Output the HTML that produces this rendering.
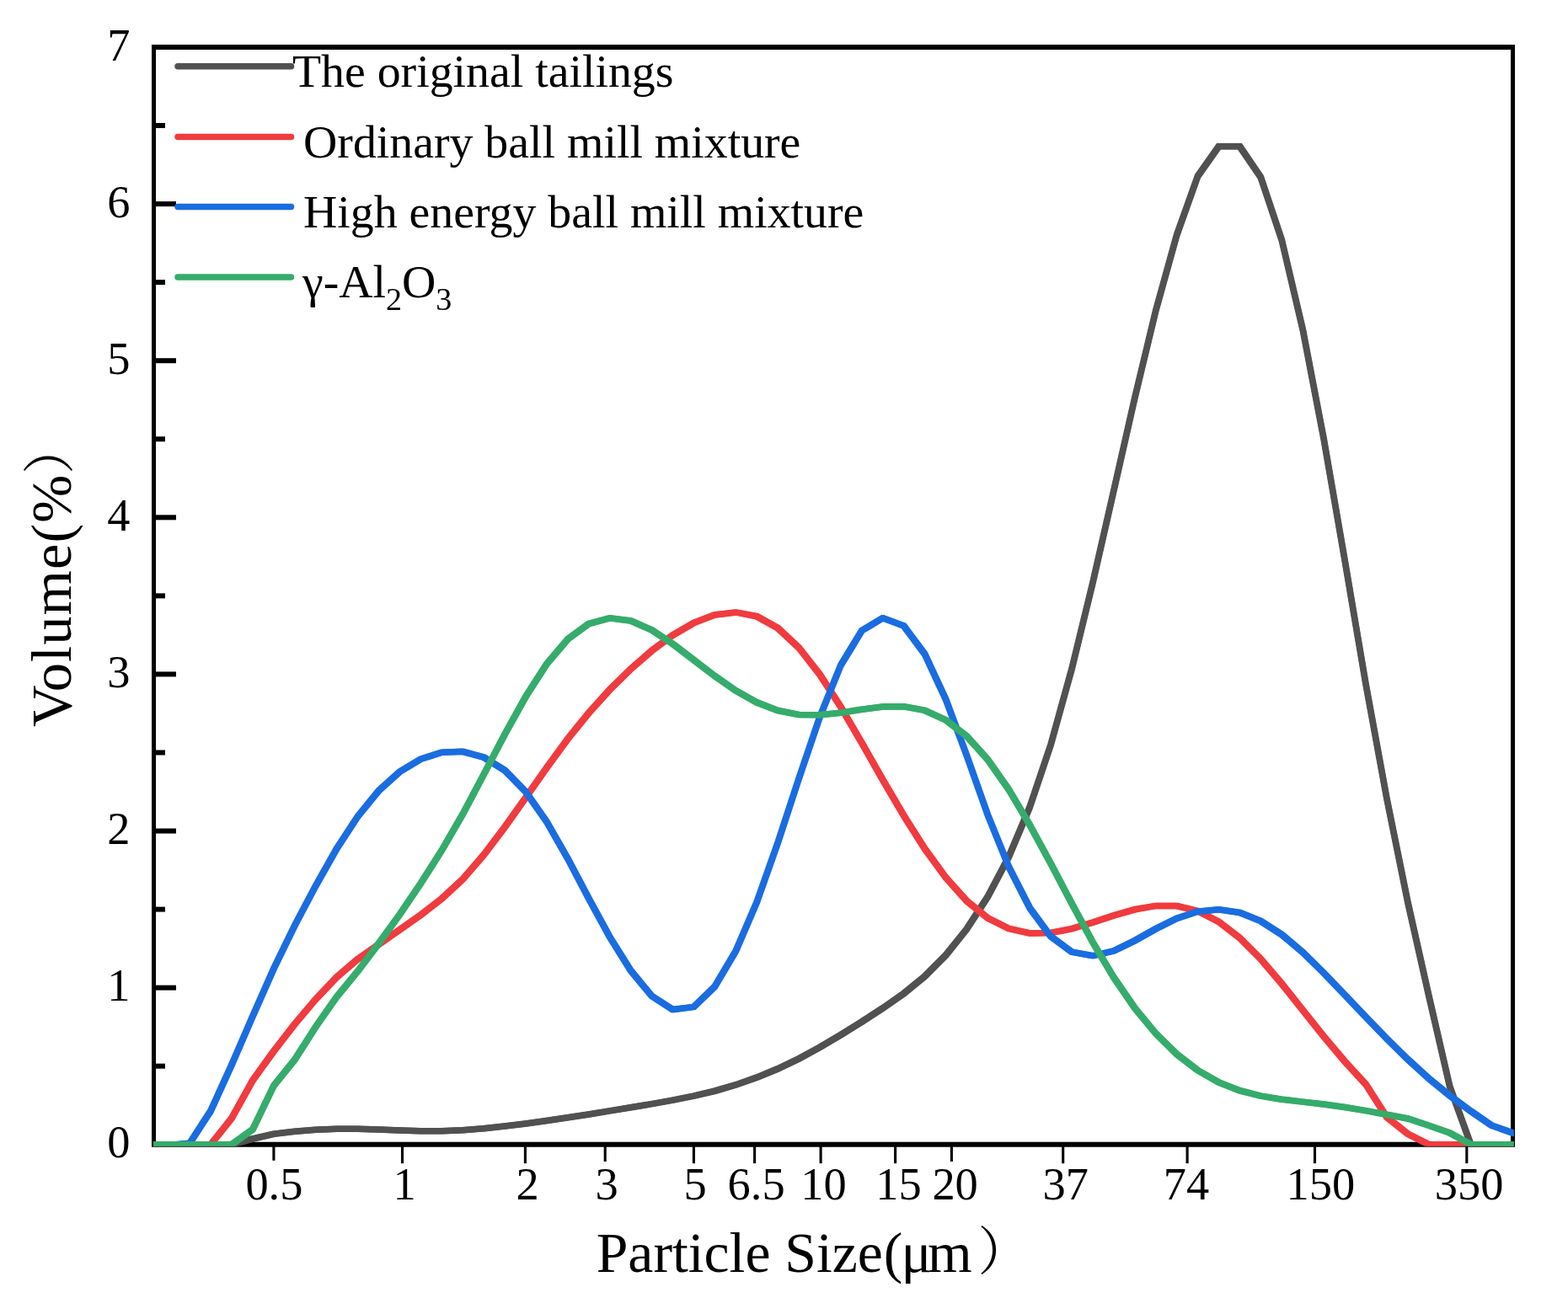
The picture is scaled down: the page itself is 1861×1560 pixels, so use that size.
<!DOCTYPE html>
<html lang="en"><head><meta charset="utf-8"><title>Particle size distribution</title>
<style>html,body{margin:0;padding:0;background:#fff}body{width:1861px;height:1560px;overflow:hidden}svg{display:block}text{font-family:"Liberation Serif",serif;fill:#000}</style></head><body>
<svg width="1861" height="1560" viewBox="0 0 1861 1560">
<rect width="1861" height="1560" fill="#fff"/>
<defs><clipPath id="c"><rect x="182" y="53.0" width="1614.8" height="1307.8"/></clipPath></defs>
<g stroke="#000" fill="none">
<line x1="180.0" y1="56" x2="1798.0" y2="56" stroke-width="6"/>
<line x1="180.0" y1="1358.75" x2="1798.0" y2="1358.75" stroke-width="6"/>
<line x1="182.5" y1="56" x2="182.5" y2="1358.75" stroke-width="5"/>
<line x1="1795.5" y1="56" x2="1795.5" y2="1358.75" stroke-width="5"/>
<line x1="182.5" y1="1265.70" x2="196" y2="1265.70" stroke-width="6"/>
<line x1="182.5" y1="1172.64" x2="209" y2="1172.64" stroke-width="6"/>
<line x1="182.5" y1="1079.59" x2="196" y2="1079.59" stroke-width="6"/>
<line x1="182.5" y1="986.54" x2="209" y2="986.54" stroke-width="6"/>
<line x1="182.5" y1="893.48" x2="196" y2="893.48" stroke-width="6"/>
<line x1="182.5" y1="800.43" x2="209" y2="800.43" stroke-width="6"/>
<line x1="182.5" y1="707.38" x2="196" y2="707.38" stroke-width="6"/>
<line x1="182.5" y1="614.32" x2="209" y2="614.32" stroke-width="6"/>
<line x1="182.5" y1="521.27" x2="196" y2="521.27" stroke-width="6"/>
<line x1="182.5" y1="428.21" x2="209" y2="428.21" stroke-width="6"/>
<line x1="182.5" y1="335.16" x2="196" y2="335.16" stroke-width="6"/>
<line x1="182.5" y1="242.11" x2="209" y2="242.11" stroke-width="6"/>
<line x1="182.5" y1="149.05" x2="196" y2="149.05" stroke-width="6"/>
<line x1="324.9" y1="1358.75" x2="324.9" y2="1377.8" stroke-width="3.1"/>
<line x1="477.5" y1="1358.75" x2="477.5" y2="1381.2" stroke-width="3.1"/>
<line x1="623.4" y1="1358.75" x2="623.4" y2="1381.2" stroke-width="3.1"/>
<line x1="718.2" y1="1358.75" x2="718.2" y2="1379" stroke-width="3.1"/>
<line x1="823.4" y1="1358.75" x2="823.4" y2="1381.2" stroke-width="3.1"/>
<line x1="895.6" y1="1358.75" x2="895.6" y2="1381.2" stroke-width="3.1"/>
<line x1="974.1" y1="1358.75" x2="974.1" y2="1381.2" stroke-width="3.1"/>
<line x1="1062.6" y1="1358.75" x2="1062.6" y2="1381.2" stroke-width="3.1"/>
<line x1="1129.4" y1="1358.75" x2="1129.4" y2="1379" stroke-width="3.1"/>
<line x1="1261.7" y1="1358.75" x2="1261.7" y2="1381.2" stroke-width="3.1"/>
<line x1="1409.1" y1="1358.75" x2="1409.1" y2="1381.2" stroke-width="3.1"/>
<line x1="1560.5" y1="1358.75" x2="1560.5" y2="1381.2" stroke-width="3.1"/>
<line x1="1740.8" y1="1358.75" x2="1740.8" y2="1381.2" stroke-width="3.1"/>
</g>
<g clip-path="url(#c)" fill="none" stroke-linejoin="miter" stroke-miterlimit="4" stroke-linecap="butt">
<g stroke="#515151" stroke-width="5.3">
<polyline points="176.45,1359.85 201.37,1359.85 226.30,1359.85 251.22,1359.85 276.15,1359.85 301.07,1353.10 326.00,1347.35 350.93,1344.37 375.85,1342.32 400.77,1341.28 425.70,1341.28 450.62,1342.07 475.55,1343.16 500.48,1343.96 525.40,1343.95 550.33,1342.89 575.25,1340.85 600.18,1338.15 625.10,1335.03 650.02,1331.61 674.95,1327.92 699.88,1324.02 724.80,1320.00 749.73,1315.90 774.65,1311.70 799.57,1307.25 824.50,1302.26 849.43,1296.34 874.35,1289.10 899.27,1280.32 924.20,1270.01 949.12,1258.10 974.05,1244.57 998.98,1229.78 1023.90,1214.21 1048.82,1198.02 1073.75,1180.52 1098.67,1160.17 1123.60,1135.11 1148.52,1104.01 1173.45,1065.61 1198.38,1018.35 1223.30,959.33 1248.22,885.20 1273.15,795.25 1298.07,692.86 1323.00,583.42 1347.92,473.48 1372.85,369.88 1397.78,280.10 1422.70,210.10 1447.62,174.90 1472.55,174.90 1497.47,211.60 1522.40,286.10 1547.32,392.27 1572.25,522.29 1597.17,666.10 1622.10,813.10 1647.03,949.10 1671.95,1072.10 1696.88,1183.10 1721.80,1291.10 1746.72,1359.85 1771.65,1359.85 1796.57,1359.85 1821.50,1359.85"/>
<polyline points="174.25,1359.85 199.17,1359.85 224.10,1359.85 249.02,1359.85 273.95,1359.85 298.87,1353.10 323.80,1347.35 348.72,1344.37 373.65,1342.32 398.57,1341.28 423.50,1341.28 448.42,1342.07 473.35,1343.16 498.27,1343.96 523.20,1343.95 548.12,1342.89 573.05,1340.85 597.98,1338.15 622.90,1335.03 647.82,1331.61 672.75,1327.92 697.67,1324.02 722.60,1320.00 747.52,1315.90 772.45,1311.70 797.37,1307.25 822.30,1302.26 847.23,1296.34 872.15,1289.10 897.07,1280.32 922.00,1270.01 946.92,1258.10 971.85,1244.57 996.77,1229.78 1021.70,1214.21 1046.62,1198.02 1071.55,1180.52 1096.48,1160.17 1121.40,1135.11 1146.33,1104.01 1171.25,1065.61 1196.18,1018.35 1221.10,959.33 1246.03,885.20 1270.95,795.25 1295.88,692.86 1320.80,583.42 1345.73,473.48 1370.65,369.88 1395.58,280.10 1420.50,210.10 1445.43,174.90 1470.35,174.90 1495.28,211.60 1520.20,286.10 1545.12,392.27 1570.05,522.29 1594.97,666.10 1619.90,813.10 1644.83,949.10 1669.75,1072.10 1694.68,1183.10 1719.60,1291.10 1744.53,1359.85 1769.45,1359.85 1794.38,1359.85 1819.30,1359.85"/>
<polyline points="176.45,1357.65 201.37,1357.65 226.30,1357.65 251.22,1357.65 276.15,1357.65 301.07,1350.90 326.00,1345.15 350.93,1342.17 375.85,1340.12 400.77,1339.08 425.70,1339.08 450.62,1339.87 475.55,1340.96 500.48,1341.76 525.40,1341.75 550.33,1340.69 575.25,1338.65 600.18,1335.95 625.10,1332.83 650.02,1329.41 674.95,1325.72 699.88,1321.82 724.80,1317.80 749.73,1313.70 774.65,1309.50 799.57,1305.05 824.50,1300.06 849.43,1294.14 874.35,1286.90 899.27,1278.12 924.20,1267.81 949.12,1255.90 974.05,1242.37 998.98,1227.58 1023.90,1212.01 1048.82,1195.82 1073.75,1178.32 1098.67,1157.97 1123.60,1132.91 1148.52,1101.81 1173.45,1063.41 1198.38,1016.15 1223.30,957.13 1248.22,883.00 1273.15,793.05 1298.07,690.66 1323.00,581.22 1347.92,471.28 1372.85,367.68 1397.78,277.90 1422.70,207.90 1447.62,172.70 1472.55,172.70 1497.47,209.40 1522.40,283.90 1547.32,390.07 1572.25,520.09 1597.17,663.90 1622.10,810.90 1647.03,946.90 1671.95,1069.90 1696.88,1180.90 1721.80,1288.90 1746.72,1357.65 1771.65,1357.65 1796.57,1357.65 1821.50,1357.65"/>
<polyline points="174.25,1357.65 199.17,1357.65 224.10,1357.65 249.02,1357.65 273.95,1357.65 298.87,1350.90 323.80,1345.15 348.72,1342.17 373.65,1340.12 398.57,1339.08 423.50,1339.08 448.42,1339.87 473.35,1340.96 498.27,1341.76 523.20,1341.75 548.12,1340.69 573.05,1338.65 597.98,1335.95 622.90,1332.83 647.82,1329.41 672.75,1325.72 697.67,1321.82 722.60,1317.80 747.52,1313.70 772.45,1309.50 797.37,1305.05 822.30,1300.06 847.23,1294.14 872.15,1286.90 897.07,1278.12 922.00,1267.81 946.92,1255.90 971.85,1242.37 996.77,1227.58 1021.70,1212.01 1046.62,1195.82 1071.55,1178.32 1096.48,1157.97 1121.40,1132.91 1146.33,1101.81 1171.25,1063.41 1196.18,1016.15 1221.10,957.13 1246.03,883.00 1270.95,793.05 1295.88,690.66 1320.80,581.22 1345.73,471.28 1370.65,367.68 1395.58,277.90 1420.50,207.90 1445.43,172.70 1470.35,172.70 1495.28,209.40 1520.20,283.90 1545.12,390.07 1570.05,520.09 1594.97,663.90 1619.90,810.90 1644.83,946.90 1669.75,1069.90 1694.68,1180.90 1719.60,1288.90 1744.53,1357.65 1769.45,1357.65 1794.38,1357.65 1819.30,1357.65"/>
</g>
<g stroke="#F03B3F" stroke-width="5.3">
<polyline points="176.45,1359.85 201.37,1359.85 226.30,1359.85 251.22,1359.85 276.15,1328.60 301.07,1283.60 326.00,1249.10 350.93,1216.86 375.85,1187.35 400.77,1161.23 425.70,1139.85 450.62,1122.35 475.55,1104.85 500.48,1087.35 525.40,1068.00 550.33,1044.85 575.25,1016.03 600.18,983.10 625.10,947.90 650.02,912.38 674.95,878.43 699.88,847.47 724.80,819.85 749.73,795.32 774.65,773.63 799.57,755.13 824.50,740.61 849.43,731.10 874.35,728.02 899.27,732.84 924.20,746.70 949.12,769.96 974.05,801.81 998.98,840.37 1023.90,883.00 1048.82,926.85 1073.75,969.38 1098.67,1008.65 1123.60,1042.95 1148.52,1070.74 1173.45,1091.01 1198.38,1103.60 1223.30,1109.07 1248.22,1108.60 1273.15,1103.75 1298.07,1096.31 1323.00,1088.08 1347.92,1080.84 1372.85,1076.49 1397.78,1076.69 1422.70,1082.76 1447.62,1095.41 1472.55,1114.65 1497.47,1139.73 1522.40,1169.00 1547.32,1200.29 1572.25,1231.69 1597.17,1261.24 1622.10,1288.40 1647.03,1327.35 1671.95,1347.35 1696.88,1359.85 1721.80,1359.85 1746.72,1359.85 1771.65,1359.85 1796.57,1359.85 1821.50,1359.85"/>
<polyline points="174.25,1359.85 199.17,1359.85 224.10,1359.85 249.02,1359.85 273.95,1328.60 298.87,1283.60 323.80,1249.10 348.72,1216.86 373.65,1187.35 398.57,1161.23 423.50,1139.85 448.42,1122.35 473.35,1104.85 498.27,1087.35 523.20,1068.00 548.12,1044.85 573.05,1016.03 597.98,983.10 622.90,947.90 647.82,912.38 672.75,878.43 697.67,847.47 722.60,819.85 747.52,795.32 772.45,773.63 797.37,755.13 822.30,740.61 847.23,731.10 872.15,728.02 897.07,732.84 922.00,746.70 946.92,769.96 971.85,801.81 996.77,840.37 1021.70,883.00 1046.62,926.85 1071.55,969.38 1096.48,1008.65 1121.40,1042.95 1146.33,1070.74 1171.25,1091.01 1196.18,1103.60 1221.10,1109.07 1246.03,1108.60 1270.95,1103.75 1295.88,1096.31 1320.80,1088.08 1345.73,1080.84 1370.65,1076.49 1395.58,1076.69 1420.50,1082.76 1445.43,1095.41 1470.35,1114.65 1495.28,1139.73 1520.20,1169.00 1545.12,1200.29 1570.05,1231.69 1594.97,1261.24 1619.90,1288.40 1644.83,1327.35 1669.75,1347.35 1694.68,1359.85 1719.60,1359.85 1744.53,1359.85 1769.45,1359.85 1794.38,1359.85 1819.30,1359.85"/>
<polyline points="176.45,1357.65 201.37,1357.65 226.30,1357.65 251.22,1357.65 276.15,1326.40 301.07,1281.40 326.00,1246.90 350.93,1214.66 375.85,1185.15 400.77,1159.03 425.70,1137.65 450.62,1120.15 475.55,1102.65 500.48,1085.15 525.40,1065.80 550.33,1042.65 575.25,1013.83 600.18,980.90 625.10,945.70 650.02,910.18 674.95,876.23 699.88,845.27 724.80,817.65 749.73,793.12 774.65,771.43 799.57,752.93 824.50,738.41 849.43,728.90 874.35,725.82 899.27,730.64 924.20,744.50 949.12,767.76 974.05,799.61 998.98,838.17 1023.90,880.80 1048.82,924.65 1073.75,967.18 1098.67,1006.45 1123.60,1040.75 1148.52,1068.54 1173.45,1088.81 1198.38,1101.40 1223.30,1106.87 1248.22,1106.40 1273.15,1101.55 1298.07,1094.11 1323.00,1085.88 1347.92,1078.64 1372.85,1074.29 1397.78,1074.49 1422.70,1080.56 1447.62,1093.21 1472.55,1112.45 1497.47,1137.53 1522.40,1166.80 1547.32,1198.09 1572.25,1229.49 1597.17,1259.04 1622.10,1286.20 1647.03,1325.15 1671.95,1345.15 1696.88,1357.65 1721.80,1357.65 1746.72,1357.65 1771.65,1357.65 1796.57,1357.65 1821.50,1357.65"/>
<polyline points="174.25,1357.65 199.17,1357.65 224.10,1357.65 249.02,1357.65 273.95,1326.40 298.87,1281.40 323.80,1246.90 348.72,1214.66 373.65,1185.15 398.57,1159.03 423.50,1137.65 448.42,1120.15 473.35,1102.65 498.27,1085.15 523.20,1065.80 548.12,1042.65 573.05,1013.83 597.98,980.90 622.90,945.70 647.82,910.18 672.75,876.23 697.67,845.27 722.60,817.65 747.52,793.12 772.45,771.43 797.37,752.93 822.30,738.41 847.23,728.90 872.15,725.82 897.07,730.64 922.00,744.50 946.92,767.76 971.85,799.61 996.77,838.17 1021.70,880.80 1046.62,924.65 1071.55,967.18 1096.48,1006.45 1121.40,1040.75 1146.33,1068.54 1171.25,1088.81 1196.18,1101.40 1221.10,1106.87 1246.03,1106.40 1270.95,1101.55 1295.88,1094.11 1320.80,1085.88 1345.73,1078.64 1370.65,1074.29 1395.58,1074.49 1420.50,1080.56 1445.43,1093.21 1470.35,1112.45 1495.28,1137.53 1520.20,1166.80 1545.12,1198.09 1570.05,1229.49 1594.97,1259.04 1619.90,1286.20 1644.83,1325.15 1669.75,1345.15 1694.68,1357.65 1719.60,1357.65 1744.53,1357.65 1769.45,1357.65 1794.38,1357.65 1819.30,1357.65"/>
</g>
<g stroke="#1A6DE0" stroke-width="5.3">
<polyline points="176.45,1359.85 201.37,1360.65 226.30,1358.35 251.22,1319.85 276.15,1265.10 301.07,1207.38 326.00,1151.10 350.93,1099.80 375.85,1052.60 400.77,1008.60 425.70,970.41 450.62,939.78 475.55,917.25 500.48,902.27 525.40,894.34 550.33,893.41 575.25,900.13 600.18,915.65 625.10,941.22 650.02,976.78 674.95,1020.36 699.88,1067.66 724.80,1113.48 749.73,1153.46 774.65,1183.60 799.57,1199.70 824.50,1196.60 849.43,1172.35 874.35,1130.26 899.27,1072.27 924.20,1001.81 949.12,925.71 974.05,852.40 998.98,790.77 1023.90,749.85 1048.82,734.85 1073.75,744.10 1098.67,777.64 1123.60,831.31 1148.52,898.10 1173.45,968.60 1198.38,1030.10 1223.30,1079.02 1248.22,1112.93 1273.15,1131.34 1298.07,1135.91 1323.00,1129.99 1347.92,1117.86 1372.85,1103.84 1397.78,1091.49 1422.70,1083.32 1447.62,1080.79 1472.55,1084.56 1497.47,1094.66 1522.40,1110.68 1547.32,1131.72 1572.25,1156.22 1597.17,1182.26 1622.10,1208.54 1647.03,1234.24 1671.95,1258.76 1696.88,1281.42 1721.80,1301.80 1746.72,1320.23 1771.65,1337.35 1796.57,1346.10 1821.50,1353.10"/>
<polyline points="174.25,1359.85 199.17,1360.65 224.10,1358.35 249.02,1319.85 273.95,1265.10 298.87,1207.38 323.80,1151.10 348.72,1099.80 373.65,1052.60 398.57,1008.60 423.50,970.41 448.42,939.78 473.35,917.25 498.27,902.27 523.20,894.34 548.12,893.41 573.05,900.13 597.98,915.65 622.90,941.22 647.82,976.78 672.75,1020.36 697.67,1067.66 722.60,1113.48 747.52,1153.46 772.45,1183.60 797.37,1199.70 822.30,1196.60 847.23,1172.35 872.15,1130.26 897.07,1072.27 922.00,1001.81 946.92,925.71 971.85,852.40 996.77,790.77 1021.70,749.85 1046.62,734.85 1071.55,744.10 1096.48,777.64 1121.40,831.31 1146.33,898.10 1171.25,968.60 1196.18,1030.10 1221.10,1079.02 1246.03,1112.93 1270.95,1131.34 1295.88,1135.91 1320.80,1129.99 1345.73,1117.86 1370.65,1103.84 1395.58,1091.49 1420.50,1083.32 1445.43,1080.79 1470.35,1084.56 1495.28,1094.66 1520.20,1110.68 1545.12,1131.72 1570.05,1156.22 1594.97,1182.26 1619.90,1208.54 1644.83,1234.24 1669.75,1258.76 1694.68,1281.42 1719.60,1301.80 1744.53,1320.23 1769.45,1337.35 1794.38,1346.10 1819.30,1353.10"/>
<polyline points="176.45,1357.65 201.37,1358.45 226.30,1356.15 251.22,1317.65 276.15,1262.90 301.07,1205.18 326.00,1148.90 350.93,1097.60 375.85,1050.40 400.77,1006.40 425.70,968.21 450.62,937.58 475.55,915.05 500.48,900.07 525.40,892.14 550.33,891.21 575.25,897.93 600.18,913.45 625.10,939.02 650.02,974.58 674.95,1018.16 699.88,1065.46 724.80,1111.28 749.73,1151.26 774.65,1181.40 799.57,1197.50 824.50,1194.40 849.43,1170.15 874.35,1128.06 899.27,1070.07 924.20,999.61 949.12,923.51 974.05,850.20 998.98,788.57 1023.90,747.65 1048.82,732.65 1073.75,741.90 1098.67,775.44 1123.60,829.11 1148.52,895.90 1173.45,966.40 1198.38,1027.90 1223.30,1076.82 1248.22,1110.73 1273.15,1129.14 1298.07,1133.71 1323.00,1127.79 1347.92,1115.66 1372.85,1101.64 1397.78,1089.29 1422.70,1081.12 1447.62,1078.59 1472.55,1082.36 1497.47,1092.46 1522.40,1108.48 1547.32,1129.52 1572.25,1154.02 1597.17,1180.06 1622.10,1206.34 1647.03,1232.04 1671.95,1256.56 1696.88,1279.22 1721.80,1299.60 1746.72,1318.03 1771.65,1335.15 1796.57,1343.90 1821.50,1350.90"/>
<polyline points="174.25,1357.65 199.17,1358.45 224.10,1356.15 249.02,1317.65 273.95,1262.90 298.87,1205.18 323.80,1148.90 348.72,1097.60 373.65,1050.40 398.57,1006.40 423.50,968.21 448.42,937.58 473.35,915.05 498.27,900.07 523.20,892.14 548.12,891.21 573.05,897.93 597.98,913.45 622.90,939.02 647.82,974.58 672.75,1018.16 697.67,1065.46 722.60,1111.28 747.52,1151.26 772.45,1181.40 797.37,1197.50 822.30,1194.40 847.23,1170.15 872.15,1128.06 897.07,1070.07 922.00,999.61 946.92,923.51 971.85,850.20 996.77,788.57 1021.70,747.65 1046.62,732.65 1071.55,741.90 1096.48,775.44 1121.40,829.11 1146.33,895.90 1171.25,966.40 1196.18,1027.90 1221.10,1076.82 1246.03,1110.73 1270.95,1129.14 1295.88,1133.71 1320.80,1127.79 1345.73,1115.66 1370.65,1101.64 1395.58,1089.29 1420.50,1081.12 1445.43,1078.59 1470.35,1082.36 1495.28,1092.46 1520.20,1108.48 1545.12,1129.52 1570.05,1154.02 1594.97,1180.06 1619.90,1206.34 1644.83,1232.04 1669.75,1256.56 1694.68,1279.22 1719.60,1299.60 1744.53,1318.03 1769.45,1335.15 1794.38,1343.90 1819.30,1350.90"/>
</g>
<g stroke="#35AC6B" stroke-width="5.3">
<polyline points="176.45,1359.85 201.37,1359.85 226.30,1359.85 251.22,1359.85 276.15,1359.85 301.07,1341.90 326.00,1290.10 350.93,1259.10 375.85,1220.10 400.77,1184.60 425.70,1154.20 450.62,1121.10 475.55,1086.70 500.48,1049.85 525.40,1010.67 550.33,967.60 575.25,920.60 600.18,873.02 625.10,828.12 650.02,789.35 674.95,759.96 699.88,741.72 724.80,734.84 749.73,738.02 774.65,749.11 799.57,765.52 824.50,784.55 849.43,803.72 874.35,821.06 899.27,835.04 924.20,844.65 949.12,849.48 974.05,849.95 998.98,847.30 1023.90,843.33 1048.82,840.14 1073.75,839.84 1098.67,844.49 1123.60,855.87 1148.52,875.16 1173.45,902.89 1198.38,938.51 1223.30,980.39 1248.22,1026.28 1273.15,1073.72 1298.07,1119.69 1323.00,1161.51 1347.92,1197.80 1372.85,1228.06 1397.78,1252.64 1422.70,1271.88 1447.62,1286.09 1472.55,1295.89 1497.47,1302.21 1522.40,1306.26 1547.32,1309.22 1572.25,1312.11 1597.17,1315.58 1622.10,1319.74 1647.03,1324.33 1671.95,1329.10 1696.88,1337.35 1721.80,1346.10 1746.72,1359.85 1771.65,1359.85 1796.57,1359.85 1821.50,1359.85"/>
<polyline points="174.25,1359.85 199.17,1359.85 224.10,1359.85 249.02,1359.85 273.95,1359.85 298.87,1341.90 323.80,1290.10 348.72,1259.10 373.65,1220.10 398.57,1184.60 423.50,1154.20 448.42,1121.10 473.35,1086.70 498.27,1049.85 523.20,1010.67 548.12,967.60 573.05,920.60 597.98,873.02 622.90,828.12 647.82,789.35 672.75,759.96 697.67,741.72 722.60,734.84 747.52,738.02 772.45,749.11 797.37,765.52 822.30,784.55 847.23,803.72 872.15,821.06 897.07,835.04 922.00,844.65 946.92,849.48 971.85,849.95 996.77,847.30 1021.70,843.33 1046.62,840.14 1071.55,839.84 1096.48,844.49 1121.40,855.87 1146.33,875.16 1171.25,902.89 1196.18,938.51 1221.10,980.39 1246.03,1026.28 1270.95,1073.72 1295.88,1119.69 1320.80,1161.51 1345.73,1197.80 1370.65,1228.06 1395.58,1252.64 1420.50,1271.88 1445.43,1286.09 1470.35,1295.89 1495.28,1302.21 1520.20,1306.26 1545.12,1309.22 1570.05,1312.11 1594.97,1315.58 1619.90,1319.74 1644.83,1324.33 1669.75,1329.10 1694.68,1337.35 1719.60,1346.10 1744.53,1359.85 1769.45,1359.85 1794.38,1359.85 1819.30,1359.85"/>
<polyline points="176.45,1357.65 201.37,1357.65 226.30,1357.65 251.22,1357.65 276.15,1357.65 301.07,1339.70 326.00,1287.90 350.93,1256.90 375.85,1217.90 400.77,1182.40 425.70,1152.00 450.62,1118.90 475.55,1084.50 500.48,1047.65 525.40,1008.47 550.33,965.40 575.25,918.40 600.18,870.82 625.10,825.92 650.02,787.15 674.95,757.76 699.88,739.52 724.80,732.64 749.73,735.82 774.65,746.91 799.57,763.32 824.50,782.35 849.43,801.52 874.35,818.86 899.27,832.84 924.20,842.45 949.12,847.28 974.05,847.75 998.98,845.10 1023.90,841.13 1048.82,837.94 1073.75,837.64 1098.67,842.29 1123.60,853.67 1148.52,872.96 1173.45,900.69 1198.38,936.31 1223.30,978.19 1248.22,1024.08 1273.15,1071.52 1298.07,1117.49 1323.00,1159.31 1347.92,1195.60 1372.85,1225.86 1397.78,1250.44 1422.70,1269.68 1447.62,1283.89 1472.55,1293.69 1497.47,1300.01 1522.40,1304.06 1547.32,1307.02 1572.25,1309.91 1597.17,1313.38 1622.10,1317.54 1647.03,1322.13 1671.95,1326.90 1696.88,1335.15 1721.80,1343.90 1746.72,1357.65 1771.65,1357.65 1796.57,1357.65 1821.50,1357.65"/>
<polyline points="174.25,1357.65 199.17,1357.65 224.10,1357.65 249.02,1357.65 273.95,1357.65 298.87,1339.70 323.80,1287.90 348.72,1256.90 373.65,1217.90 398.57,1182.40 423.50,1152.00 448.42,1118.90 473.35,1084.50 498.27,1047.65 523.20,1008.47 548.12,965.40 573.05,918.40 597.98,870.82 622.90,825.92 647.82,787.15 672.75,757.76 697.67,739.52 722.60,732.64 747.52,735.82 772.45,746.91 797.37,763.32 822.30,782.35 847.23,801.52 872.15,818.86 897.07,832.84 922.00,842.45 946.92,847.28 971.85,847.75 996.77,845.10 1021.70,841.13 1046.62,837.94 1071.55,837.64 1096.48,842.29 1121.40,853.67 1146.33,872.96 1171.25,900.69 1196.18,936.31 1221.10,978.19 1246.03,1024.08 1270.95,1071.52 1295.88,1117.49 1320.80,1159.31 1345.73,1195.60 1370.65,1225.86 1395.58,1250.44 1420.50,1269.68 1445.43,1283.89 1470.35,1293.69 1495.28,1300.01 1520.20,1304.06 1545.12,1307.02 1570.05,1309.91 1594.97,1313.38 1619.90,1317.54 1644.83,1322.13 1669.75,1326.90 1694.68,1335.15 1719.60,1343.90 1744.53,1357.65 1769.45,1357.65 1794.38,1357.65 1819.30,1357.65"/>
</g>
</g>
<g fill="none" stroke-linecap="round" stroke-width="7.5">
<line x1="211" y1="78.75" x2="345.5" y2="78.75" stroke="#515151"/>
<line x1="211" y1="162.5" x2="345.5" y2="162.5" stroke="#F03B3F"/>
<line x1="211" y1="245.5" x2="345.5" y2="245.5" stroke="#1A6DE0"/>
<line x1="211" y1="329" x2="345.5" y2="329" stroke="#35AC6B"/>
</g>
<g font-size="55.8px">
<text x="347" y="102.5">The original tailings</text>
<text x="360" y="186.6">Ordinary ball mill mixture</text>
<text x="360" y="269.6">High energy ball mill mixture</text>
<text x="359" y="352.5">γ-Al<tspan font-size="38px" dy="15">2</tspan><tspan dy="-15">O</tspan><tspan font-size="38px" dy="15">3</tspan></text>
</g>
<g font-size="54.4px" text-anchor="middle">
<text x="325.4" y="1424.3">0.5</text>
<text x="480.0" y="1424.3">1</text>
<text x="626.1" y="1424.3">2</text>
<text x="720.2" y="1424.3">3</text>
<text x="825.2" y="1424.3">5</text>
<text x="897.6" y="1424.3">6.5</text>
<text x="977.4" y="1424.3">10</text>
<text x="1066.4" y="1424.3">15</text>
<text x="1133.6" y="1424.3">20</text>
<text x="1264.7" y="1424.3">37</text>
<text x="1407.9" y="1424.3">74</text>
<text x="1567.3" y="1424.3">150</text>
<text x="1743.6" y="1424.3">350</text>
</g>
<g font-size="54.4px" text-anchor="end">
<text x="154.5" y="1374.3">0</text>
<text x="154.5" y="1188.2">1</text>
<text x="154.5" y="1002.1">2</text>
<text x="154.5" y="816.0">3</text>
<text x="154.5" y="629.9">4</text>
<text x="154.5" y="443.8">5</text>
<text x="154.5" y="257.7">6</text>
<text x="154.5" y="71.6">7</text>
</g>
<text font-size="67.7px" x="707.7" y="1510">Particle Size<tspan x="1048.7">(</tspan><tspan x="1069.5">μ</tspan><tspan x="1101.1">m</tspan><tspan x="1160.5" dy="-2.5" font-size="62px" font-family="'Liberation Serif','Noto Serif CJK SC',serif">）</tspan></text>
<text font-size="68.5px" letter-spacing="1.1" transform="translate(83.5,863) rotate(-90)">Volume(%<tspan x="300" dy="-2.5" font-size="62px" letter-spacing="0" font-family="'Liberation Serif','Noto Serif CJK SC',serif">）</tspan></text>
</svg></body></html>
